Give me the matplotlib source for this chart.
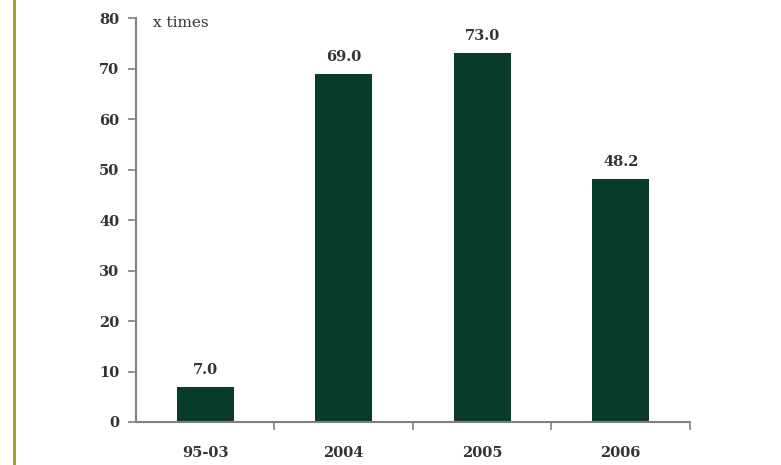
import numpy as np
import matplotlib.pyplot as plt

# --- Data ---
categories = ["95-03", "2004", "2005", "2006"]
values = [7.0, 69.0, 73.0, 48.2]

bar_color = "#083b2c"
axis_color = "#808080"
serif = ["DejaVu Serif"]

fig = plt.figure(figsize=(7.81, 4.65), dpi=100)
ax = fig.add_axes([0.174, 0.0925, 0.7095, 0.8685])

x = np.arange(len(categories))
ax.bar(x, values, width=0.41, color=bar_color)

for xi, v in zip(x, values):
    ax.text(xi, v + 2.0, f"{v:.1f}", ha="center", va="bottom",
            fontsize=10.5, fontweight="bold", family=serif, color="#333333")

ax.set_xlim(-0.5, 3.5)
ax.set_ylim(0, 80)
ax.set_yticks(range(0, 81, 10))
ax.set_xticks(x)
ax.set_xticklabels(categories)
ax.set_xticks(np.arange(0.5, 3.6, 1.0), minor=True)

for side in ["top", "right"]:
    ax.spines[side].set_visible(False)
for side in ["left", "bottom"]:
    ax.spines[side].set_color(axis_color)
    ax.spines[side].set_linewidth(1.5)

ax.tick_params(axis="y", direction="out", length=6, width=1.2, color=axis_color, pad=6)
ax.tick_params(axis="x", which="major", length=0, pad=17)
ax.tick_params(axis="x", which="minor", direction="out", length=6, width=1.2, color=axis_color)

for lbl in ax.get_xticklabels() + ax.get_yticklabels():
    lbl.set_family(serif)
    lbl.set_fontweight("bold")
    lbl.set_fontsize(10.5)
    lbl.set_color("#333333")

ax.text(0.03, 1.005, "x times", transform=ax.transAxes, ha="left", va="top",
        fontsize=11, family=serif, color="#333333")

# olive side rule on the left
fig.add_artist(plt.Line2D([0.018, 0.018], [0, 1], transform=fig.transFigure,
                          color="#9a9a1e", linewidth=2))

fig.savefig("out.png", dpi=100)
